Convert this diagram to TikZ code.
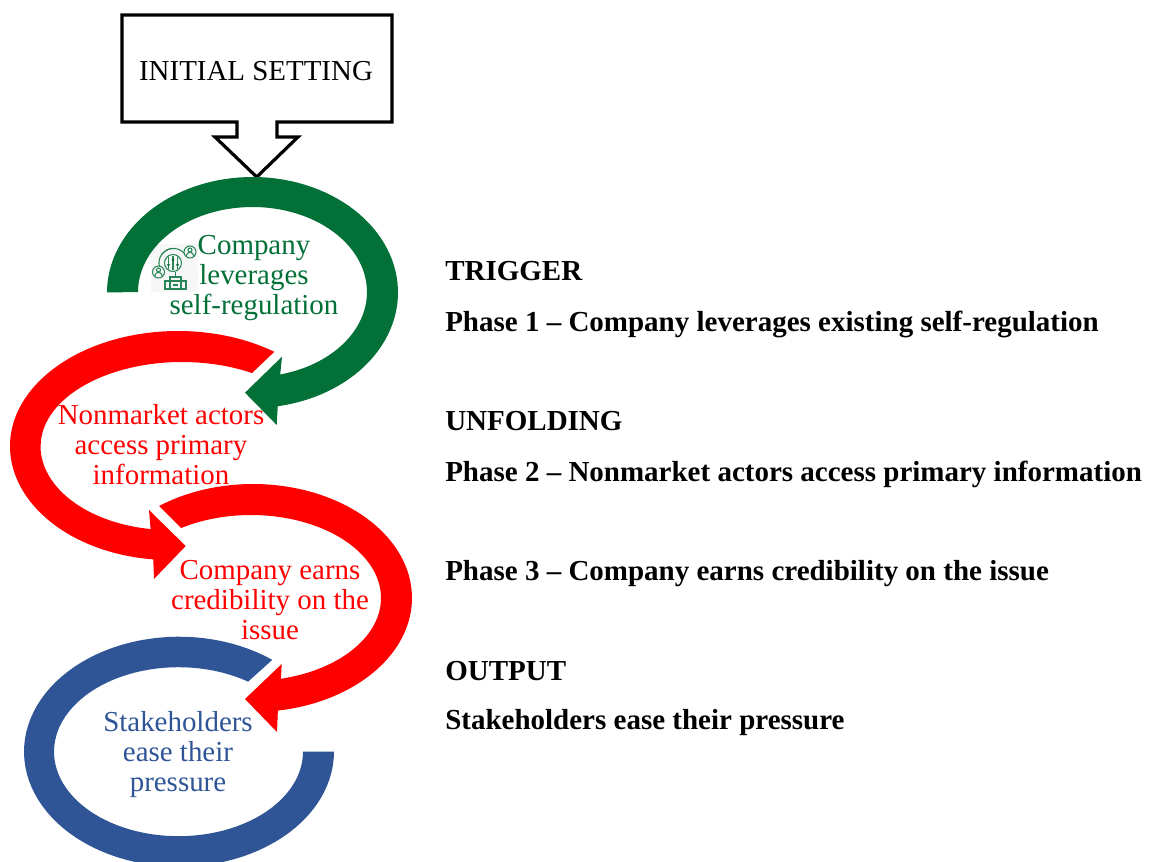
\documentclass[tikz,border=0pt]{standalone}
\usepackage{fontspec}
\setmainfont{Liberation Serif}
\definecolor{cgreen}{HTML}{027037}
\definecolor{cred}{HTML}{FF0000}
\definecolor{cblue}{HTML}{2F5597}
\newcommand{\ex}[2]{#1+#2*cos(\x)}
\newcommand{\ey}[2]{#1+#2*sin(\x)}
\newcommand{\bigfont}{\fontsize{21.7pt}{22.5pt}\selectfont}
\newcommand{\sidefont}{\fontsize{21.75pt}{22.5pt}\selectfont\bfseries}
\tikzset{
  x=.75pt,y=-.75pt,
  looptext/.style={font=\bigfont,align=center,inner sep=0pt,anchor=base},
  sidetext/.style={font=\sidefont,inner sep=0pt,anchor=base west},
  iconline/.style={draw=cgreen!85!white,line width=.8pt,fill=none},
  fine/.style={samples=90},
}
\begin{document}
\begin{tikzpicture}
\useasboundingbox (0,0) rectangle (1150,862);
\clip (0,0) rectangle (1150,862);
\fill[white] (0,0) rectangle (1150,862);
% callout
\draw[black,line width=2.4pt,miter limit=10]
  (122,15) -- (392,15) -- (392,122) -- (277,122) -- (277,137) -- (298,137)
  -- (256.7,177) -- (215,137) -- (237,137) -- (237,122) -- (122,122) -- cycle;
\node[font=\bigfont,inner sep=0pt,anchor=base] (setting) at (256,81) {INITIAL SETTING};
% icon background
\fill[black!3] (151,244) rectangle (198,292);
% green arrow
\fill[cgreen] plot[fine,domain=180:440] ({\ex{252.5}{145.5}},{\ey{292.5}{115.5}})
  -- (276.7,425) -- (245,392.7) -- (282,356.7)
  -- plot[fine,domain=436:180] ({\ex{252.5}{114.5}},{\ey{292}{85}}) -- cycle;
% red arrow 1
\fill[cred] plot[fine,domain=305:180] ({\ex{178}{168}},{\ey{446}{115}})
  -- plot[fine,domain=180:96] ({\ex{170}{160}},{\ey{446}{114}})
  -- (154,579) -- (185.7,546) -- (149,510)
  -- plot[fine,domain=98.6:180] ({\ex{170}{129.5}},{\ey{446}{84}})
  -- plot[fine,domain=180:299.7] ({\ex{182}{141.3}},{\ey{446}{84}}) -- cycle;
% red arrow 2
\fill[cred] plot[fine,domain=233.8:441] ({\ex{253}{159}},{\ey{598}{114}})
  -- (277,732) -- (245,699) -- (281.7,664)
  -- plot[fine,domain=436.7:237.5] ({\ex{251}{130}},{\ey{598}{83}}) -- cycle;
% blue arc
\fill[cblue] plot[fine,domain=307:0] ({\ex{179}{155}},{\ey{751.7}{115}})
  -- plot[fine,domain=0:304] ({\ex{178.5}{124.5}},{\ey{751.7}{84.5}}) -- cycle;
% icon
\draw[iconline] (173,263) circle[radius=8.5];
\draw[iconline] plot[fine,domain=130:330] ({\ex{173.5}{14.5}},{-\ey{-263}{14.5}});
\draw[iconline] plot[fine,domain=215:265] ({\ex{173.5}{14.5}},{-\ey{-263}{14.5}});
\draw[iconline] (168.5,257)--(168.5,269) (173,256)--(173,270) (177.5,257)--(177.5,269);
\fill[cgreen] (168.5,265) circle[radius=1.5] (173,260) circle[radius=1.5] (177.5,265) circle[radius=1.5];
\fill[black!3] (190,252) circle[radius=6] (158.5,272) circle[radius=6];
\draw[iconline] (190,252) circle[radius=6];
\draw[iconline] (190,250) circle[radius=2];
\draw[iconline] plot[fine,domain=180:360] ({\ex{190}{3.5}},{-\ey{-256}{3.5}});
\draw[iconline] (158.5,272) circle[radius=6];
\draw[iconline] (158.5,270) circle[radius=2];
\draw[iconline] plot[fine,domain=180:360] ({\ex{158.5}{3.5}},{-\ey{-276}{3.5}});
\fill[black!3] (165,277) rectangle (186,289);
\draw[iconline] (165,281) rectangle (186,289);
\draw[iconline] (170,289) -- (170,277) -- (181,277) -- (181,289);
\draw[iconline] (175.5,277) -- (175.5,272) (173,281)--(178,281) (173,285)--(178,285);
% loop labels
\node[looptext,text=cgreen] (t1) at (254,315) {Company\\leverages\\self-regulation};
\node[looptext,text=cred] (t2) at (161,485) {Nonmarket actors\\access primary\\information};
\node[looptext,text=cred] (t3) at (270,639) {Company earns\\credibility on the\\issue};
\node[looptext,text=cblue] (t4) at (178,791) {Stakeholders\\ease their\\pressure};
% side text
\node[sidetext] (s1) at (445,280.5) {TRIGGER};
\node[sidetext] (s2) at (445,332) {Phase 1 – Company leverages existing self-regulation};
\node[sidetext] (s3) at (445,431) {UNFOLDING};
\node[sidetext] (s4) at (445,482) {Phase 2 – Nonmarket actors access primary information};
\node[sidetext] (s5) at (445,581) {Phase 3 – Company earns credibility on the issue};
\node[sidetext] (s6) at (445,680) {OUTPUT};
\node[sidetext] (s7) at (445,729.5) {Stakeholders ease their pressure};
\end{tikzpicture}
\end{document}
